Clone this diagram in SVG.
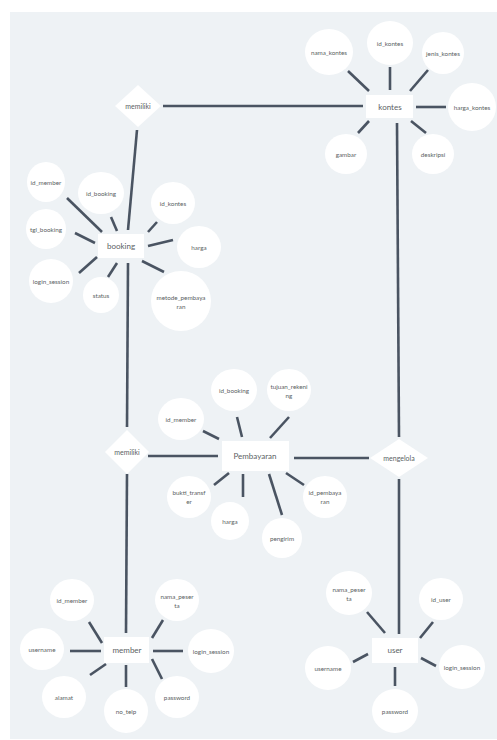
<svg xmlns="http://www.w3.org/2000/svg" width="497" height="740" viewBox="0 0 497 740">
  <style>
    .panel { fill: #eef2f5; }
    .ent { fill: #ffffff; }
    .attr { fill: #ffffff; }
    .rel { fill: #ffffff; }
    .lnk line { stroke: #4a5462; stroke-width: 2.6; }
    text { font-family: "Lato", "Liberation Sans", sans-serif; fill: #5b5f64; text-anchor: middle; dominant-baseline: central; }
    .t-attr { font-size: 6.3px; }
    .t-ent { font-size: 8px; }
    .t-rel { font-size: 7px; }
  </style>

  <rect x="0" y="0" width="497" height="740" fill="#ffffff"/>
  <rect class="panel" x="10" y="12" width="487" height="727"/>

  <!-- connectors -->
  <g id="connectors" class="lnk">
    <!-- relationships -->
    <line x1="163" y1="106" x2="363" y2="106"/>
    <line x1="137" y1="130" x2="128" y2="230"/>
    <line x1="128" y1="263" x2="127" y2="427"/>
    <line x1="148" y1="456" x2="218" y2="456"/>
    <line x1="127" y1="474" x2="126" y2="633"/>
    <line x1="397" y1="123" x2="399" y2="437"/>
    <line x1="294" y1="458" x2="369" y2="458"/>
    <line x1="399" y1="479" x2="399" y2="634"/>
    <!-- kontes attributes -->
    <line x1="348" y1="71" x2="369" y2="91"/>
    <line x1="390" y1="67" x2="390" y2="90"/>
    <line x1="428" y1="70" x2="410" y2="91"/>
    <line x1="416" y1="107" x2="446" y2="107"/>
    <line x1="358" y1="133" x2="369" y2="121"/>
    <line x1="411" y1="121" x2="426" y2="133"/>
    <!-- booking attributes -->
    <line x1="67" y1="198" x2="102" y2="232"/>
    <line x1="111" y1="217" x2="117" y2="231"/>
    <line x1="148" y1="232" x2="157" y2="222"/>
    <line x1="75" y1="233" x2="95" y2="243"/>
    <line x1="148" y1="246" x2="173" y2="240"/>
    <line x1="79" y1="273" x2="97" y2="257"/>
    <line x1="108" y1="277" x2="117" y2="263"/>
    <line x1="142" y1="261" x2="164" y2="272"/>
    <!-- Pembayaran attributes -->
    <line x1="203" y1="431" x2="219" y2="439"/>
    <line x1="237" y1="417" x2="242" y2="437"/>
    <line x1="289" y1="417" x2="270" y2="438"/>
    <line x1="214" y1="485" x2="229" y2="473"/>
    <line x1="243" y1="474" x2="243" y2="497"/>
    <line x1="269" y1="474" x2="282" y2="515"/>
    <line x1="286" y1="473" x2="304" y2="485"/>
    <!-- member attributes -->
    <line x1="89" y1="622" x2="102" y2="643"/>
    <line x1="163" y1="620" x2="152" y2="638"/>
    <line x1="70" y1="651" x2="101" y2="651"/>
    <line x1="153" y1="651" x2="183" y2="651"/>
    <line x1="90" y1="675" x2="106" y2="664"/>
    <line x1="126" y1="665" x2="126" y2="687"/>
    <line x1="152" y1="659" x2="162" y2="679"/>
    <!-- user attributes -->
    <line x1="367" y1="612" x2="385" y2="633"/>
    <line x1="433" y1="622" x2="420" y2="638"/>
    <line x1="353" y1="662" x2="368" y2="654"/>
    <line x1="421" y1="658" x2="436" y2="666"/>
    <line x1="395" y1="667" x2="395" y2="686"/>
  </g>

  <!-- relationships -->
  <g id="rel-memiliki-kontes">
    <polygon class="rel" points="138,85 161,106 138,127 115,106"/>
    <text class="t-rel" x="138" y="106">memiliki</text>
  </g>
  <g id="rel-memiliki-pembayaran">
    <polygon class="rel" points="127,430 149,452 127,474 105,452"/>
    <text class="t-rel" x="127" y="452">memiliki</text>
  </g>
  <g id="rel-mengelola">
    <polygon class="rel" points="399,439 428,458 399,477 370,458"/>
    <text class="t-rel" x="399" y="458">mengelola</text>
  </g>

  <!-- kontes -->
  <g id="kontes">
    <rect class="ent" x="366" y="95" width="47" height="23"/>
    <text class="t-ent" x="390" y="107">kontes</text>
  </g>
  <g id="kontes-attrs">
    <ellipse class="attr" cx="329" cy="52" rx="24" ry="23"/><text class="t-attr" x="329" y="52">nama_kontes</text>
    <ellipse class="attr" cx="390" cy="43" rx="23" ry="22"/><text class="t-attr" x="390" y="43">id_kontes</text>
    <ellipse class="attr" cx="443" cy="53" rx="21" ry="21"/><text class="t-attr" x="443" y="53">jenis_kontes</text>
    <ellipse class="attr" cx="472" cy="107" rx="24" ry="24"/><text class="t-attr" x="472" y="107">harga_kontes</text>
    <ellipse class="attr" cx="346" cy="154" rx="21" ry="20"/><text class="t-attr" x="346" y="154">gambar</text>
    <ellipse class="attr" cx="433" cy="154" rx="21" ry="20"/><text class="t-attr" x="433" y="154">deskripsi</text>
  </g>

  <!-- booking -->
  <g id="booking">
    <rect class="ent" x="98" y="234" width="46" height="24"/>
    <text class="t-ent" x="121" y="246">booking</text>
  </g>
  <g id="booking-attrs">
    <ellipse class="attr" cx="46" cy="182" rx="19" ry="20"/><text class="t-attr" x="46" y="182">id_member</text>
    <ellipse class="attr" cx="101" cy="193" rx="23" ry="21"/><text class="t-attr" x="101" y="193">id_booking</text>
    <ellipse class="attr" cx="173" cy="203" rx="22" ry="21"/><text class="t-attr" x="173" y="203">id_kontes</text>
    <ellipse class="attr" cx="46" cy="229" rx="20" ry="20"/><text class="t-attr" x="46" y="229">tgl_booking</text>
    <ellipse class="attr" cx="199" cy="247" rx="22" ry="21"/><text class="t-attr" x="199" y="247">harga</text>
    <ellipse class="attr" cx="51" cy="281" rx="22" ry="22"/><text class="t-attr" x="51" y="281">login_session</text>
    <ellipse class="attr" cx="101" cy="295" rx="18" ry="18"/><text class="t-attr" x="101" y="295">status</text>
    <ellipse class="attr" cx="181" cy="301" rx="30" ry="30"/>
    <text class="t-attr" x="181" y="297">metode_pembaya</text>
    <text class="t-attr" x="181" y="306">ran</text>
  </g>

  <!-- Pembayaran -->
  <g id="pembayaran">
    <rect class="ent" x="222" y="441" width="67" height="30"/>
    <text class="t-ent" x="255" y="456">Pembayaran</text>
  </g>
  <g id="pembayaran-attrs">
    <ellipse class="attr" cx="234" cy="390" rx="23" ry="21"/><text class="t-attr" x="234" y="390">id_booking</text>
    <ellipse class="attr" cx="289" cy="390" rx="22" ry="21"/>
    <text class="t-attr" x="289" y="386">tujuan_rekeni</text>
    <text class="t-attr" x="289" y="395">ng</text>
    <ellipse class="attr" cx="181" cy="419" rx="23" ry="21"/><text class="t-attr" x="181" y="419">id_member</text>
    <ellipse class="attr" cx="189" cy="497" rx="22" ry="21"/>
    <text class="t-attr" x="189" y="492">bukti_transf</text>
    <text class="t-attr" x="189" y="501">er</text>
    <ellipse class="attr" cx="230" cy="521" rx="19" ry="19"/><text class="t-attr" x="230" y="521">harga</text>
    <ellipse class="attr" cx="282" cy="538" rx="20" ry="20"/><text class="t-attr" x="282" y="538">pengirim</text>
    <ellipse class="attr" cx="325" cy="497" rx="22" ry="21"/>
    <text class="t-attr" x="325" y="492">id_pembaya</text>
    <text class="t-attr" x="325" y="501">ran</text>
  </g>

  <!-- member -->
  <g id="member">
    <rect class="ent" x="104" y="637" width="45" height="26"/>
    <text class="t-ent" x="127" y="650">member</text>
  </g>
  <g id="member-attrs">
    <ellipse class="attr" cx="72" cy="600" rx="22" ry="21"/><text class="t-attr" x="72" y="600">id_member</text>
    <ellipse class="attr" cx="177" cy="600" rx="22" ry="21"/>
    <text class="t-attr" x="177" y="596">nama_peser</text>
    <text class="t-attr" x="177" y="605">ta</text>
    <ellipse class="attr" cx="42" cy="649" rx="22" ry="21"/><text class="t-attr" x="42" y="649">username</text>
    <ellipse class="attr" cx="211" cy="651" rx="23" ry="22"/><text class="t-attr" x="211" y="651">login_session</text>
    <ellipse class="attr" cx="64" cy="697" rx="22" ry="21"/><text class="t-attr" x="64" y="697">alamat</text>
    <ellipse class="attr" cx="126" cy="711" rx="22" ry="22"/><text class="t-attr" x="126" y="711">no_telp</text>
    <ellipse class="attr" cx="177" cy="697" rx="22" ry="21"/><text class="t-attr" x="177" y="697">password</text>
  </g>

  <!-- user -->
  <g id="user">
    <rect class="ent" x="372" y="638" width="46" height="25"/>
    <text class="t-ent" x="395" y="650">user</text>
  </g>
  <g id="user-attrs">
    <ellipse class="attr" cx="349" cy="593" rx="23" ry="22"/>
    <text class="t-attr" x="349" y="589">nama_peser</text>
    <text class="t-attr" x="349" y="598">ta</text>
    <ellipse class="attr" cx="441" cy="599" rx="22" ry="21"/><text class="t-attr" x="441" y="599">id_user</text>
    <ellipse class="attr" cx="328" cy="668" rx="23" ry="22"/><text class="t-attr" x="328" y="668">username</text>
    <ellipse class="attr" cx="462" cy="667" rx="23" ry="22"/><text class="t-attr" x="462" y="667">login_session</text>
    <ellipse class="attr" cx="395" cy="711" rx="23" ry="22"/><text class="t-attr" x="395" y="711">password</text>
  </g>
</svg>
